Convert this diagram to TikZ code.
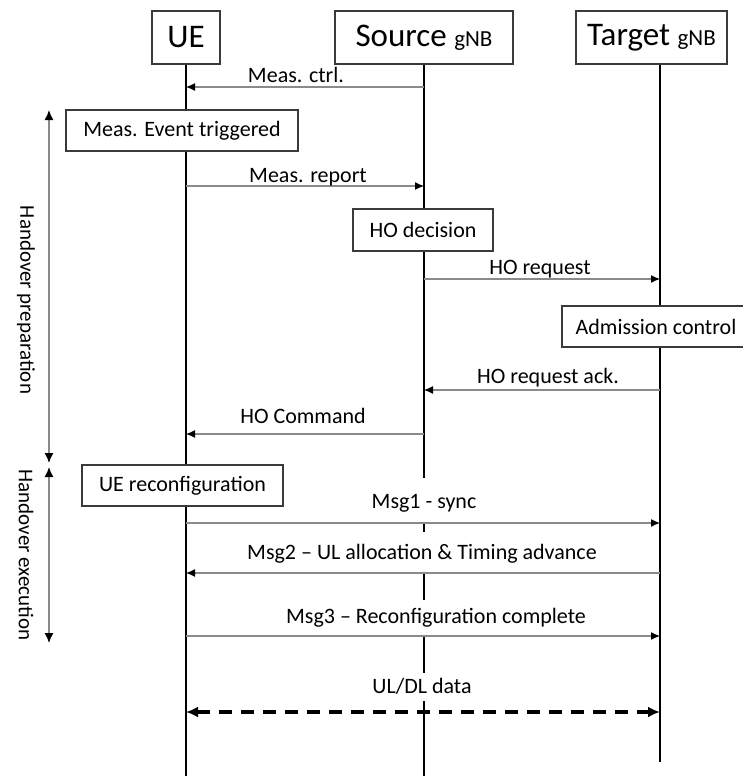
\documentclass[tikz,border=0pt]{standalone}
\usepackage{fontspec}
\setmainfont{Carlito}
\usetikzlibrary{arrows.meta}
\definecolor{boxgray}{HTML}{3A3A3A}
\definecolor{msggray}{HTML}{8A8A8A}
\begin{document}
\begin{tikzpicture}[x=1pt,y=-1pt,
  hdr/.style={draw=boxgray, line width=1.3pt, inner sep=0pt, font=\fontsize{33}{37}\selectfont},
  box/.style={draw=boxgray, line width=1.3pt, fill=white, inner sep=0pt, font=\fontsize{22}{26}\selectfont},
  lbl/.style={inner sep=0pt, anchor=base, font=\fontsize{22}{26}\selectfont},
  life/.style={line width=1.8pt, black},
  msg/.style={line width=1.1pt, msggray, -{Latex[length=9pt,width=8pt,color=black]}},
  phase/.style={line width=1.4pt, msggray, {Latex[length=10pt,width=9pt,color=black]}-{Latex[length=10pt,width=9pt,color=black]}},
  side/.style={rotate=-90, inner sep=0pt, font=\fontsize{21}{25}\selectfont},
  data/.style={line width=3.2pt, black, dash pattern=on 13pt off 9pt, {Latex[length=12pt,width=11pt]}-{Latex[length=12pt,width=11pt]}}
]
\useasboundingbox (0,0) rectangle (742,776);

% headers
\node[hdr, minimum width=68pt, minimum height=53pt] (ue) at (186,37.5) {UE};
\node[hdr, minimum width=178pt, minimum height=53pt] (src) at (424,37.5) {Source {\fontsize{23}{27}\selectfont gNB}};
\node[hdr, minimum width=151pt, minimum height=53pt] (tg) at (651.5,37.5) {Target {\fontsize{23}{27}\selectfont gNB}};

% lifeline ends
\coordinate (U) at (186,776);
\coordinate (S) at (424,776);
\coordinate (T) at (660,762);

% message rows
\coordinate (m1) at (0,87);
\coordinate (m2) at (0,186);
\coordinate (m3) at (0,279);
\coordinate (m4) at (0,390);
\coordinate (m5) at (0,434);
\coordinate (m6) at (0,523);
\coordinate (m7) at (0,573);
\coordinate (m8) at (0,636);
\coordinate (m9) at (0,712);

% source lifeline break points
\coordinate (s1) at (424,478);
\coordinate (s2) at (424,523);
\coordinate (s3) at (424,532);
\coordinate (s4) at (424,573);
\coordinate (s5) at (424,600);
\coordinate (s6) at (424,636);
\coordinate (s7) at (424,673);
\coordinate (s8) at (424,701);

% lifelines
\draw[life] (ue.south) -- (U);
\draw[life] (T |- tg.south) -- (T);
\draw[life] (src.south) -- (s1);
\draw[life] (s2) -- (s3);
\draw[life] (s4) -- (s5);
\draw[life] (s6) -- (s7);
\draw[life] (s8) -- (S);

% boxes on lifelines
\node[box, minimum width=232pt, minimum height=41pt] (evt) at (182,130.5) {Meas. Event triggered};
\node[box, minimum width=140pt, minimum height=42pt] (hod) at (423,230) {HO decision};
\node[box, minimum width=188pt, minimum height=41pt] (adm) at (656,326.5) {Admission control};
\node[box, minimum width=201pt, minimum height=41pt] (uer) at (182.5,485.5) {UE reconfiguration};

% messages
\draw[msg] (S |- m1) -- (U |- m1);
\node[lbl] (l1) at (296,82) {Meas. ctrl.};
\draw[msg] (U |- m2) -- (S |- m2);
\node[lbl] (l2) at (308,182) {Meas. report};
\draw[msg] (S |- m3) -- (T |- m3);
\node[lbl] (l3) at (540,274) {HO request};
\draw[msg] (T |- m4) -- (S |- m4);
\node[lbl] (l4) at (548,383) {HO request ack.};
\draw[msg] (S |- m5) -- (U |- m5);
\node[lbl] (l5) at (303,423) {HO Command};
\draw[msg] (U |- m6) -- (T |- m6);
\node[lbl] (l6) at (424,508) {Msg1 - sync};
\draw[msg] (T |- m7) -- (U |- m7);
\node[lbl] (l7) at (422,559) {Msg2 -- UL allocation \& Timing advance};
\draw[msg] (U |- m8) -- (T |- m8);
\node[lbl] (l8) at (436,623) {Msg3 -- Reconfiguration complete};
\draw[data] (U |- m9) -- (T |- m9);
\node[lbl] (l9) at (422,693) {UL/DL data};

% phases
\coordinate (p1) at (49,110);
\coordinate (p2) at (49,463);
\coordinate (p3) at (49,467);
\coordinate (p4) at (49,643);
\draw[phase] (p1) -- (p2);
\draw[phase] (p3) -- (p4);
\node[side] (tp) at (26,300) {Handover preparation};
\node[side] (te) at (26,555) {Handover execution};
\end{tikzpicture}
\end{document}
